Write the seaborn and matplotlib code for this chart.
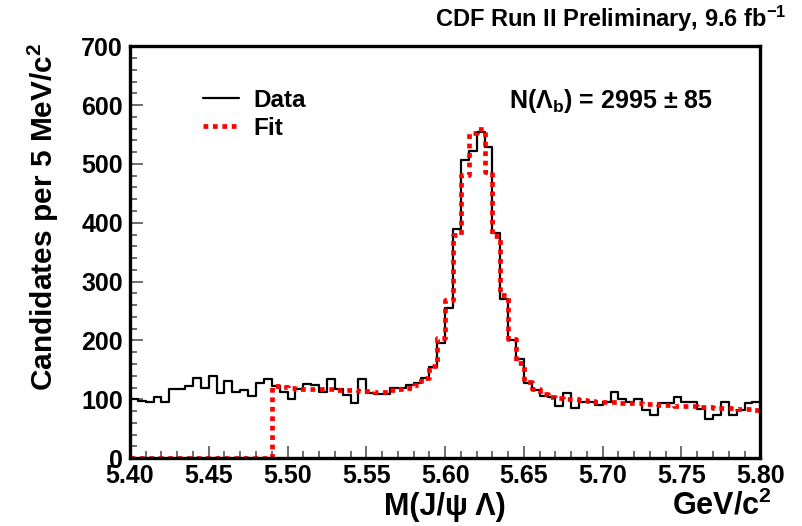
import numpy as np
import pandas as pd
import seaborn as sns
import matplotlib
matplotlib.use('Agg')
import matplotlib.pyplot as plt
from matplotlib.lines import Line2D
from matplotlib.ticker import MultipleLocator

# histogram: 80 bins of 5 MeV from 5.40 to 5.80 GeV
bin_edges = [round(5.40 + 0.005 * i, 4) for i in range(81)]
bin_centers = [round(5.4025 + 0.005 * i, 4) for i in range(80)]

data_counts = [100, 97, 96, 104, 96, 117, 118, 122, 136, 120,
               140, 110, 131, 113, 115, 105, 127, 134, 123, 113,
               100, 117, 126, 124, 112, 135, 118, 108, 94, 135,
               110, 109, 109, 120, 120, 125, 127, 136, 155, 195,
               255, 390, 507, 522, 555, 529, 383, 270, 200, 168,
               127, 115, 105, 104, 88, 110, 86, 95, 95, 91,
               95, 112, 100, 95, 101, 82, 73, 93, 94, 104,
               96, 96, 84, 66, 73, 96, 73, 82, 93, 96]

fit_counts = [0, 0, 0, 0, 0, 0, 0, 0, 0, 0,
              0, 0, 0, 0, 0, 0, 0, 0, 122, 121,
              120, 118, 118, 117, 117, 117, 116, 115, 115, 114,
              114, 113, 113, 115, 117, 120, 125, 136, 157, 205,
              268, 379, 481, 553, 560, 486, 377, 277, 203, 162,
              130, 118, 109, 104, 102, 101, 100, 98, 97, 96,
              96, 95, 94, 93, 93, 92, 92, 91, 90, 89,
              89, 88, 87, 87, 86, 85, 85, 84, 83, 82]

x_ticks = [5.40, 5.45, 5.50, 5.55, 5.60, 5.65, 5.70, 5.75, 5.80]
y_ticks = [0, 100, 200, 300, 400, 500, 600, 700]

df = pd.DataFrame({'mass': bin_centers, 'data': data_counts, 'fit': fit_counts})

sns.set_theme(style='ticks')
plt.rcParams['font.family'] = ['Liberation Sans', 'DejaVu Sans']
plt.rcParams['font.weight'] = 'bold'
plt.rcParams['text.color'] = 'black'
plt.rcParams['axes.labelcolor'] = 'black'
plt.rcParams['mathtext.fontset'] = 'custom'
plt.rcParams['mathtext.rm'] = 'Liberation Sans:bold'
plt.rcParams['mathtext.it'] = 'Liberation Sans:bold'
plt.rcParams['mathtext.bf'] = 'Liberation Sans:bold'

fig = plt.figure(figsize=(8.02, 5.26), dpi=100)
ax = fig.add_axes([0.162, 0.129, 0.786, 0.783])

sns.histplot(data=df, x='mass', weights='data', bins=bin_edges, element='step',
             fill=False, color='black', linewidth=1.6, ax=ax)
sns.histplot(data=df, x='mass', weights='fit', bins=bin_edges, element='step',
             fill=False, color='#ff0000', linewidth=3.4, linestyle=(0, (1, 1)),
             ax=ax)

ax.set_xlim(5.40, 5.80)
ax.set_ylim(0, 700)
ax.set_xticks(x_ticks)
ax.set_xticklabels([f'{v:.2f}' for v in x_ticks])
ax.set_yticks(y_ticks)
ax.xaxis.set_minor_locator(MultipleLocator(0.01))
ax.yaxis.set_minor_locator(MultipleLocator(20))
ax.tick_params(which='both', direction='in', width=1.2, color='#555555',
               labelcolor='black', top=False, right=False, labelsize=18)
ax.tick_params(which='major', length=9)
ax.tick_params(which='minor', length=5)
ax.tick_params(axis='x', pad=4)
ax.tick_params(axis='y', pad=5)
for s in ax.spines.values():
    s.set_linewidth(2.4)
    s.set_color('black')

ax.set_xlabel('')
ax.set_ylabel('Candidates per 5 MeV/c$^{2}$', fontsize=21.5, fontweight='bold')
ax.yaxis.set_label_coords(-0.11, 0.585)
fig.text(0.555, 0.036, 'M(J/ψ Λ)', fontsize=22, fontweight='bold', ha='center',
         va='center')
fig.text(0.962, 0.008, 'GeV/c$^{2}$', fontsize=22, fontweight='bold', ha='right',
         va='bottom')
fig.text(0.98, 0.965, 'CDF Run II Preliminary, 9.6 fb$^{-1}$', fontsize=17,
         fontweight='bold', ha='right', va='center')
ax.text(0.925, 0.868, 'N(Λ$_{b}$) = 2995 ± 85', transform=ax.transAxes,
        fontsize=18, fontweight='bold', ha='right', va='center')

handles = [Line2D([], [], color='black', linewidth=1.6),
           Line2D([], [], color='#ff0000', linewidth=3.4, linestyle=(0, (1, 1)))]
ax.legend(handles, ['Data', 'Fit'], loc='upper left', bbox_to_anchor=(0.1, 0.92),
          frameon=False, fontsize=17.5, handlelength=1.5, handletextpad=0.6,
          labelspacing=0.2, borderaxespad=0)

fig.savefig('out.png', dpi=100)
